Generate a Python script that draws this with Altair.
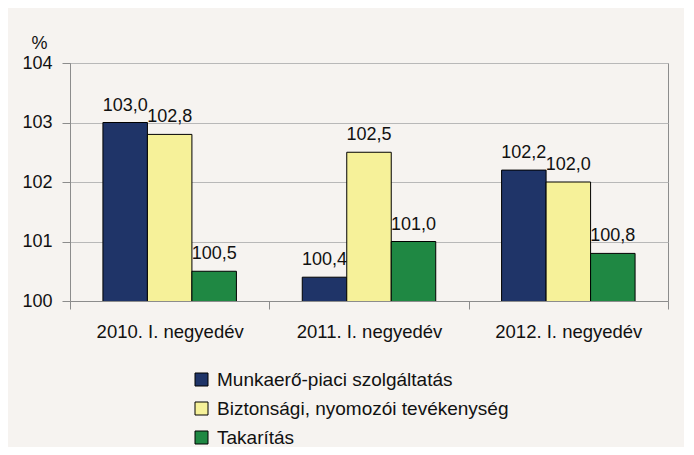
import altair as alt
import pandas as pd

periods = ["2010. I. negyedév", "2011. I. negyedév", "2012. I. negyedév"]
series = ["Munkaerő-piaci szolgáltatás", "Biztonsági, nyomozói tevékenység", "Takarítás"]
munkaero = [103.0, 100.4, 102.2]
biztonsagi = [102.8, 102.5, 102.0]
takaritas = [100.5, 101.0, 100.8]
colors = ["#1f3468", "#f6f199", "#1f8843"]

rows = []
for s, vals in zip(series, [munkaero, biztonsagi, takaritas]):
    for p, v in zip(periods, vals):
        rows.append({"period": p, "series": s, "value": v,
                     "label": f"{v:.1f}".replace(".", ",")})
df = pd.DataFrame(rows)

BG = "#f6f3f0"
FONT = "Liberation Sans"

x = alt.X("period:N", sort=periods, title=None,
          scale=alt.Scale(paddingInner=0, paddingOuter=0),
          axis=alt.Axis(labelAngle=0, tickBand="extent", tickSize=8,
                        tickColor="#8c8c8c", domainColor="#8c8c8c",
                        labelFontSize=18.5, labelPadding=13, labelColor="#111111",
                        labelFont=FONT, grid=False))
xo = alt.XOffset("series:N", sort=series,
                 scale=alt.Scale(paddingInner=0, paddingOuter=0.74))
y = alt.Y("value:Q", title="%",
          scale=alt.Scale(domain=[100, 104], zero=False, nice=False),
          axis=alt.Axis(values=[100, 101, 102, 103, 104], format="d",
                        tickSize=8, tickColor="#8c8c8c", domainColor="#8c8c8c",
                        gridColor="#b8b8b8", labelFontSize=18, labelPadding=10,
                        labelColor="#111111", labelFont=FONT,
                        titleAngle=0, titleX=-31, titleY=-15, titleAlign="center",
                        titleBaseline="alphabetic", titleFontSize=18,
                        titleFontWeight="normal", titleFont=FONT, titleColor="#111111"))

bars = alt.Chart(df).mark_bar(stroke="black", strokeWidth=1, opacity=1, clip=True).encode(
    x=x, xOffset=xo, y=y,
    fill=alt.Fill("series:N", sort=series,
                  scale=alt.Scale(domain=series, range=colors),
                  legend=alt.Legend(title=None, orient="none", legendX=122, legendY=307,
                                    direction="vertical", symbolType="square",
                                    symbolSize=169, symbolStrokeColor="black",
                                    symbolStrokeWidth=1, labelFontSize=19,
                                    labelFont=FONT, labelColor="#111111",
                                    rowPadding=9, labelOffset=6, labelLimit=400)),
)

labels = alt.Chart(df).mark_text(baseline="alphabetic", dy=-12, fontSize=18,
                                 font=FONT, color="#111111").encode(
    x=x, xOffset=xo, y=y, text="label:N")

chart = alt.layer(bars, labels).properties(
    width=598, height=238,
    background=BG,
    autosize=alt.AutoSizeParams(type="none"),
    padding={"left": 62, "top": 55, "right": 16, "bottom": 146},
).configure_view(stroke="#8c8c8c", strokeWidth=1, fill=BG)

chart.save("out.html", embed_options={"renderer": "svg", "actions": False})
